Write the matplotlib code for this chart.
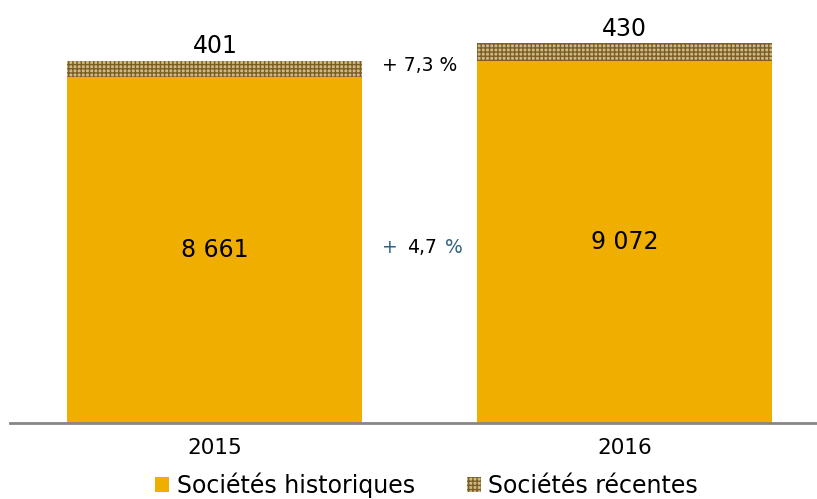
import matplotlib.pyplot as plt
from matplotlib.patches import Patch

years = ["2015", "2016"]
historiques = [8661, 9072]
recentes = [401, 430]
hist_labels = ["8 661", "9 072"]
rec_labels = ["401", "430"]
growth_rec = "7,3"
growth_hist = "4,7"

orange = "#f0ae00"
hatch_face = "#cdb98a"
hatch_edge = "#7d5e22"
teal = "#2f6180"

plt.rcParams["font.family"] = ["DejaVu Sans"]
plt.rcParams["hatch.linewidth"] = 1.0

fig = plt.figure(figsize=(8.17, 4.99), dpi=100)
ax = fig.add_axes([10 / 817, 76 / 499, 807 / 817, 415.5 / 499])

x = [0, 1]
ax.bar(x, historiques, width=0.72, color=orange, linewidth=0)
ax.bar(x, recentes, width=0.72, bottom=historiques, facecolor=hatch_face,
       edgecolor=hatch_edge, hatch="++++", linewidth=0)

for i in range(2):
    ax.text(x[i], historiques[i] / 2, hist_labels[i], ha="center", va="center",
            fontsize=17, color="black")
    ax.text(x[i], historiques[i] + recentes[i] + 70, rec_labels[i], ha="center",
            va="bottom", fontsize=17, color="black")

ax.text(0.5, 8950, "+ " + growth_rec + " %", ha="center", va="center", fontsize=13.5)
ax.annotate("+", (0.505, 4400), xytext=(-17, 0), textcoords="offset points",
            ha="right", va="center", fontsize=13.5, color=teal)
ax.text(0.505, 4400, growth_hist, ha="center", va="center", fontsize=13.5, color="black")
ax.annotate("%", (0.505, 4400), xytext=(16.5, 0), textcoords="offset points",
            ha="left", va="center", fontsize=13.5, color=teal)

ax.set_xlim(-0.5, 1.47)
ax.set_ylim(0, 10400)
ax.set_xticks(x)
ax.set_xticklabels(years, fontsize=15.5)
ax.tick_params(axis="x", length=0, pad=11)
ax.set_yticks([])
for s in ["top", "right", "left"]:
    ax.spines[s].set_visible(False)
ax.spines["bottom"].set_color("#868686")
ax.spines["bottom"].set_linewidth(2)

handles = [Patch(facecolor=orange, linewidth=0),
           Patch(facecolor=hatch_face, edgecolor=hatch_edge, hatch="++++", linewidth=0)]
fig.legend(handles, ["Sociétés historiques", "Sociétés récentes"], loc="center",
           bbox_to_anchor=(0.522, 0.027), ncol=2, frameon=False, fontsize=17,
           handlelength=0.6, handleheight=0.6, handletextpad=0.3, columnspacing=2.2)

fig.savefig("out.png", dpi=100)
